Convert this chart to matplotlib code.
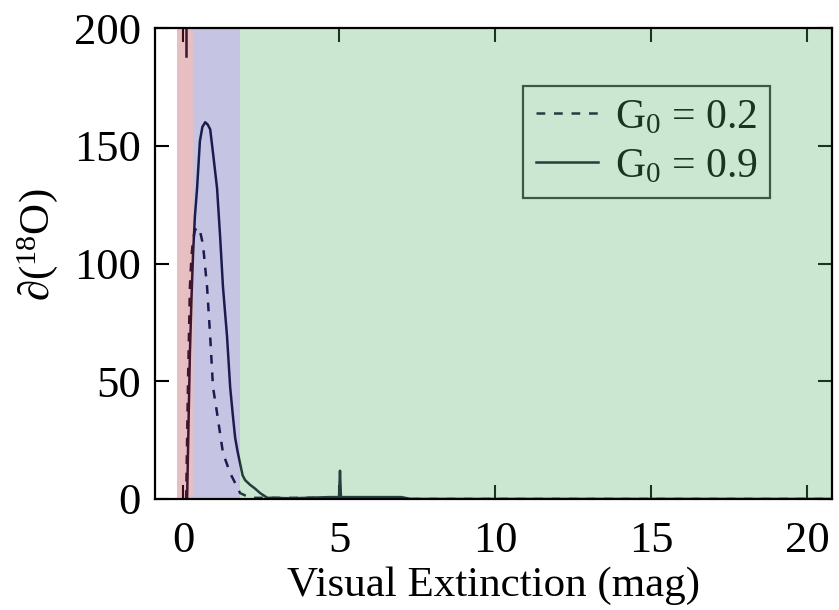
import matplotlib
matplotlib.use("Agg")
import matplotlib.pyplot as plt
import numpy as np

plt.rcParams['font.family'] = ['Liberation Serif', 'DejaVu Serif']
plt.rcParams['mathtext.fontset'] = 'custom'
plt.rcParams['mathtext.rm'] = 'Liberation Serif'
plt.rcParams['mathtext.it'] = 'Liberation Serif:italic'

# G0 = 0.9 (solid)
av_09 = [0.13, 0.18, 0.22, 0.27, 0.32, 0.38, 0.45, 0.54, 0.62, 0.71, 0.79, 0.87, 0.96, 1.09, 1.19, 1.28, 1.41,
         1.51, 1.60, 1.67, 1.75, 1.83, 1.91, 1.99, 2.15, 2.30, 2.47, 2.70, 3.5, 4.7, 5.0, 5.03, 5.06, 6.0, 7.0, 7.3, 21.0]
val_09 = [0, 35, 62, 85, 104, 120, 132, 152, 158, 160, 159, 157, 147, 132, 111, 90, 69,
          47.5, 35, 26, 20, 15, 10, 8, 6, 4.5, 2.5, 0.5, 0.3, 0.8, 0.8, 12, 0.8, 0.8, 0.8, 0, 0]
# G0 = 0.2 (dashed)
av_02 = [0.10, 0.16, 0.22, 0.27, 0.32, 0.38, 0.45, 0.54, 0.64, 0.77, 0.87, 0.96, 1.09, 1.28, 1.51,
         1.83, 2.15, 3.0, 4.0, 5.0, 6.0, 21.0]
val_02 = [0, 50, 90, 103, 110, 114, 115.5, 114, 108, 90, 69, 47.5, 36.5, 19.5, 11,
          2.5, 0.5, 0.5, 0.5, 0.5, 0, 0]
# spike near Av=0 leaving the top of the plot
av_spike = [0.10, 0.10]
val_spike = [188, 230]

regions = [(-0.19, 0.32), (0.32, 1.83), (1.83, 21.0)]
region_colors = ['#b22d3a', '#4141a5', '#58b269']

fig = plt.figure(figsize=(8.39, 6.10), dpi=100)
ax = fig.add_axes([0.1847, 0.182, 0.807, 0.772])

ax.plot(av_02, val_02, color='#0c0c2a', lw=1.8, ls=(0, (3.5, 3.5)), label=r'G$_0$ = 0.2', zorder=2)
ax.plot(av_09, val_09, color='#0c0c2a', lw=1.8, ls='-', label=r'G$_0$ = 0.9', zorder=2)
ax.plot(av_spike, val_spike, color='#0c0c2a', lw=1.8, zorder=2)

for (a, b), c in zip(regions, region_colors):
    ax.axvspan(a, b, color=c, alpha=0.3, lw=0, zorder=5)

ax.set_xlim(-0.9, 20.8)
ax.set_ylim(0, 200)
ax.set_xticks([0, 5, 10, 15, 20])
ax.set_yticks([0, 50, 100, 150, 200])
ax.tick_params(direction='in', length=10, width=1.5, top=True, right=True, labelsize=32)
ax.tick_params(axis='x', pad=16)
ax.tick_params(axis='y', pad=10)
for s in ax.spines.values():
    s.set_linewidth(1.6)
    s.set_zorder(6)

ax.set_xlabel('Visual Extinction (mag)', fontsize=31, labelpad=4)
ax.set_ylabel(r'∂($^{18}$O)', fontsize=31)
ax.yaxis.set_label_coords(-0.14, 0.54)

leg = ax.legend(loc='upper right', bbox_to_anchor=(0.908, 0.877), fontsize=30, frameon=True,
                fancybox=False, edgecolor='black', handlelength=1.5, handletextpad=0.4,
                borderpad=0.3, labelspacing=0.25, borderaxespad=0)
leg.get_frame().set_linewidth(1.6)
leg.get_frame().set_facecolor('none')
leg.set_zorder(3)

fig.savefig('out.png', dpi=100)
